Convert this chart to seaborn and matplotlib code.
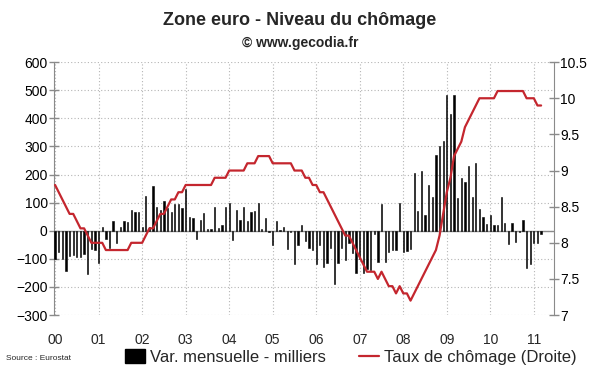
import numpy as np
import pandas as pd
import seaborn as sns
import matplotlib
matplotlib.use("Agg")
import matplotlib.pyplot as plt
from matplotlib.patches import Patch
from matplotlib.lines import Line2D

# monthly change in unemployed (thousands), Jan 2000 -> Mar 2011
var_2000 = [-99, -77, -100, -143, -89, -87, -93, -93, -83, -155, -65, -69]
var_2001 = [-113, 12, -30, -60, 36, -42, 14, 36, 32, 74, 68, 68]
var_2002 = [14, 125, 14, 160, 85, 75, 105, 80, 68, 95, 95, 80]
var_2003 = [150, 50, 45, -30, 38, 63, 8, 5, 85, 10, 20, 85]
var_2004 = [100, -33, 75, 40, 85, 35, 65, 70, 100, 8, 45, -5]
var_2005 = [-50, 35, 3, 15, -65, -5, -120, -50, 20, -35, -60, -70]
var_2006 = [-120, -50, -130, -115, -60, -190, -115, -60, -105, -45, -80, -150]
var_2007 = [-100, -150, -135, -140, -10, -110, 95, -110, -75, -70, -70, 100]
var_2008 = [-75, -72, -65, 206, 71, 212, 55, 164, 121, 270, 300, 321]
var_2009 = [482, 414, 482, 115, 188, 175, 230, 119, 240, 77, 50, 24]
var_2010 = [56, 21, 21, 119, 26, -48, 26, -39, -6, 38, -131, -117]
var_2011 = [-45, -45, -10]

# unemployment rate (%), right axis
rate_2000 = [8.8, 8.7, 8.6, 8.5, 8.4, 8.4, 8.3, 8.2, 8.2, 8.1, 8.0, 8.0]
rate_2001 = [8.0, 8.0, 7.9, 7.9, 7.9, 7.9, 7.9, 7.9, 7.9, 8.0, 8.0, 8.0]
rate_2002 = [8.0, 8.1, 8.2, 8.2, 8.3, 8.4, 8.4, 8.5, 8.6, 8.6, 8.7, 8.7]
rate_2003 = [8.8, 8.8, 8.8, 8.8, 8.8, 8.8, 8.8, 8.8, 8.9, 8.9, 8.9, 8.9]
rate_2004 = [9.0, 9.0, 9.0, 9.0, 9.0, 9.1, 9.1, 9.1, 9.2, 9.2, 9.2, 9.2]
rate_2005 = [9.1, 9.1, 9.1, 9.1, 9.1, 9.1, 9.0, 9.0, 9.0, 8.9, 8.9, 8.8]
rate_2006 = [8.8, 8.7, 8.7, 8.6, 8.5, 8.4, 8.3, 8.2, 8.1, 8.1, 8.0, 7.9]
rate_2007 = [7.8, 7.7, 7.6, 7.6, 7.6, 7.5, 7.6, 7.5, 7.4, 7.4, 7.3, 7.4]
rate_2008 = [7.3, 7.3, 7.2, 7.3, 7.4, 7.5, 7.6, 7.7, 7.8, 7.9, 8.1, 8.4]
rate_2009 = [8.7, 8.9, 9.2, 9.3, 9.4, 9.6, 9.7, 9.8, 9.9, 10.0, 10.0, 10.0]
rate_2010 = [10.0, 10.0, 10.1, 10.1, 10.1, 10.1, 10.1, 10.1, 10.1, 10.1, 10.0, 10.0]
rate_2011 = [10.0, 9.9, 9.9]

year_labels = ["00", "01", "02", "03", "04", "05", "06", "07", "08", "09", "10", "11"]

var = (var_2000 + var_2001 + var_2002 + var_2003 + var_2004 + var_2005
       + var_2006 + var_2007 + var_2008 + var_2009 + var_2010 + var_2011)
rate = (rate_2000 + rate_2001 + rate_2002 + rate_2003 + rate_2004 + rate_2005
        + rate_2006 + rate_2007 + rate_2008 + rate_2009 + rate_2010 + rate_2011)
df = pd.DataFrame({"month": np.arange(len(var)), "var": var, "rate": rate})

sns.set_style("white")
plt.rcParams["font.family"] = ["Liberation Sans", "DejaVu Sans"]

red = "#c4262e"
grey = "#8a8a8a"

fig = plt.figure(figsize=(6, 3.72), dpi=100)
ax = fig.add_axes([0.09, 0.153, 0.833, 0.68])

ax.grid(True, linestyle=(0, (1, 2)), color="#b5b5b5", lw=0.8)
ax.set_axisbelow(True)
sns.barplot(data=df, x="month", y="var", native_scale=True, color="black",
            width=0.35, edgecolor="black", linewidth=0.4, ax=ax, zorder=3)
ax.axhline(0, color=grey, lw=1, zorder=2)

ax.set_xlim(-0.3, 137.5)
ax.set_ylim(-300, 600)
ax.set_yticks(range(-300, 601, 100))
ax.set_xticks(range(0, 133, 12))
ax.set_xticklabels(year_labels)
ax.set_xlabel("")
ax.set_ylabel("")

ax2 = ax.twinx()
sns.lineplot(data=df, x="month", y="rate", color=red, lw=1.6, ax=ax2)
ax2.set_ylim(7, 10.5)
ax2.set_yticks(np.arange(7, 10.51, 0.5))
ax2.set_yticklabels(["%g" % v for v in np.arange(7, 10.51, 0.5)])
ax2.set_xlabel("")
ax2.set_ylabel("")
ax2.grid(False)

for a in (ax, ax2):
    for s in ("top", "bottom"):
        a.spines[s].set_visible(False)
    a.spines["left"].set_color(grey)
    a.spines["right"].set_color(grey)
    a.tick_params(axis="y", direction="inout", length=7, width=1, color=grey,
                  labelsize=10, labelcolor="black", pad=1)
ax.spines["right"].set_visible(False)
ax2.spines["left"].set_visible(False)
ax.tick_params(axis="x", length=0, labelsize=10, pad=13)

fig.text(0.5, 0.945, "Zone euro - Niveau du chômage", ha="center", va="center",
         fontsize=13, fontweight="bold")
fig.text(0.5, 0.885, "© www.gecodia.fr", ha="center", va="center",
         fontsize=10, fontweight="bold")
fig.text(0.01, 0.037, "Source : Eurostat", ha="left", va="center", fontsize=6)

handles = [Patch(facecolor="black", edgecolor="black"),
           Line2D([0], [0], color=red, lw=1.6)]
fig.legend(handles, ["Var. mensuelle - milliers", "Taux de chômage (Droite)"],
           loc="center", bbox_to_anchor=(0.585, 0.04), ncol=2, frameon=False,
           fontsize=12, handlelength=1.2, handleheight=0.9, handletextpad=0.3,
           columnspacing=2.0, borderaxespad=0)

fig.savefig("out.png", dpi=100)
